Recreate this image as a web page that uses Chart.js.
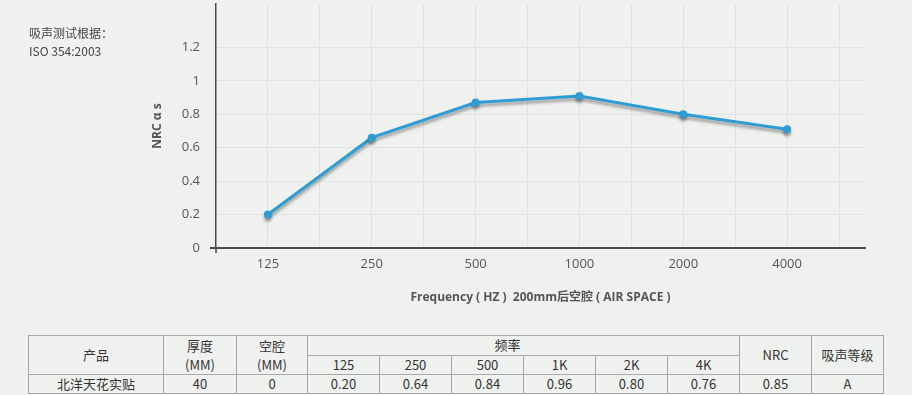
<!DOCTYPE html>
<html>
<head>
<meta charset="utf-8">
<script src="https://cdn.jsdelivr.net/npm/chart.js@4/dist/chart.umd.min.js"></script>
<style>
  html,body{margin:0;padding:0;background:#eff1ee;}
  body{width:912px;height:395px;position:relative;overflow:hidden;font-family:"Open Sans","Noto Sans CJK SC",sans-serif;}
  #wrap{position:absolute;left:0;top:0;width:912px;height:308px;}
  #note{position:absolute;left:29px;top:24px;font-size:12px;line-height:18px;color:#444;font-family:"Noto Sans CJK SC",sans-serif;}
  table{position:absolute;left:28px;top:335px;border-collapse:collapse;font-size:13px;color:#333;font-family:"Noto Sans CJK SC",sans-serif;table-layout:fixed;}
  td{border:1px solid #a9a9a9;text-align:center;padding:0;height:18px;line-height:18px;}
</style>
</head>
<body>
<div id="wrap"><canvas id="c"></canvas></div>
<div id="note">吸声测试根据：<br>ISO 354:2003</div>
<table>
  <colgroup>
    <col style="width:135px"><col style="width:73px"><col style="width:71px">
    <col style="width:72px"><col style="width:72px"><col style="width:72px"><col style="width:72px"><col style="width:72px"><col style="width:72px">
    <col style="width:72px"><col style="width:72px">
  </colgroup>
  <tr><td rowspan="2">产品</td><td rowspan="2" style="line-height:19px">厚度<br>(MM)</td><td rowspan="2" style="line-height:19px">空腔<br>(MM)</td><td colspan="6" style="padding-right:32px">频率</td><td rowspan="2">NRC</td><td rowspan="2">吸声等级</td></tr>
  <tr id="freqRow"></tr>
  <tr id="dataRow"></tr>
</table>
<script>
// ---- data ----
const freqLabels = ['125', '250', '500', '1000', '2000', '4000'];
const nrcValues = [0.20, 0.66, 0.87, 0.91, 0.80, 0.71];
const yTicks = [0, 0.2, 0.4, 0.6, 0.8, 1, 1.2];
const tableFreqs = ['125', '250', '500', '1K', '2K', '4K'];
const tableRow = ['北洋天花实贴', '40', '0', '0.20', '0.64', '0.84', '0.96', '0.80', '0.76', '0.85', 'A'];

// ---- table ----
document.getElementById('freqRow').innerHTML = tableFreqs.map(f => '<td>' + f + '</td>').join('');
document.getElementById('dataRow').innerHTML = tableRow.map(v => '<td>' + v + '</td>').join('');

// ---- chart ----
const points = nrcValues.map((v, i) => ({x: i + 0.5, y: v}));

const shadowPlugin = {
  id: 'shadow',
  beforeDatasetsDraw(chart) {
    const ctx = chart.ctx;
    ctx.save();
    ctx.shadowColor = 'rgba(0,0,0,0.35)';
    ctx.shadowBlur = 3;
    ctx.shadowOffsetX = 0;
    ctx.shadowOffsetY = 3;
  },
  afterDatasetsDraw(chart) { chart.ctx.restore(); }
};
const axisExt = {
  id: 'axisExt',
  afterDraw(chart) {
    const ctx = chart.ctx, a = chart.chartArea;
    ctx.save();
    ctx.strokeStyle = '#4a4a4a';
    ctx.lineWidth = 2;
    ctx.beginPath();
    ctx.moveTo(a.left - 6, a.bottom); ctx.lineTo(a.left, a.bottom);
    ctx.stroke();
    ctx.lineWidth = 1.5;
    ctx.beginPath();
    ctx.moveTo(a.left, a.bottom); ctx.lineTo(a.left, a.bottom + 5);
    ctx.stroke();
    ctx.restore();
  }
};

new Chart(document.getElementById('c'), {
  type: 'line',
  data: {
    datasets: [{
      data: points,
      borderColor: '#2e9dd4',
      backgroundColor: '#2e9dd4',
      borderWidth: 3,
      pointRadius: 4,
      pointHoverRadius: 4,
      pointBorderWidth: 0,
      tension: 0
    }]
  },
  options: {
    responsive: true,
    maintainAspectRatio: false,
    animation: false,
    layout: {padding: {left: 140, right: 47, top: 3, bottom: 0}},
    plugins: {legend: {display: false}, tooltip: {enabled: false}},
    scales: {
      x: {
        type: 'linear',
        min: 0,
        max: 6.25,
        afterBuildTicks(scale) {
          const t = [];
          for (let i = 1; i <= 12; i++) t.push({value: i * 0.5});
          scale.ticks = t;
        },
        afterFit(scale) { scale.height = 60; scale.paddingLeft = 0; scale.paddingRight = 0; },
        grid: {color: '#e1e3e1', lineWidth: 1, drawTicks: false},
        border: {color: '#4a4a4a', width: 2},
        ticks: {
          padding: 8,
          color: '#555',
          font: {family: 'Open Sans', size: 13},
          maxRotation: 0,
          autoSkip: false,
          callback(v) {
            const i = v - 0.5;
            return Number.isInteger(i) && freqLabels[i] ? freqLabels[i] : '';
          }
        },
        title: {
          display: true,
          text: 'Frequency ( HZ )  200mm后空腔 ( AIR SPACE )',
          color: '#555',
          font: {family: 'Open Sans, Noto Sans CJK SC', size: 12, weight: 'bold'},
          padding: {top: 0, bottom: 3}
        }
      },
      y: {
        min: 0,
        max: 1.46,
        afterBuildTicks(scale) { scale.ticks = yTicks.map(v => ({value: v})); },
        afterFit(scale) { scale.width = 76; scale.paddingTop = 0; scale.paddingBottom = 0; },
        grid: {color: '#e1e3e1', lineWidth: 1, drawTicks: false},
        border: {color: '#4a4a4a', width: 1.5},
        ticks: {
          padding: 16,
          color: '#555',
          font: {family: 'Open Sans', size: 13},
          callback(v) { return String(v); }
        },
        title: {
          display: true,
          text: 'NRC α s',
          color: '#555',
          font: {family: 'Open Sans', size: 12, weight: 'bold'},
          padding: {top: 10, bottom: 0}
        }
      }
    }
  },
  plugins: [shadowPlugin, axisExt]
});
</script>
</body>
</html>
